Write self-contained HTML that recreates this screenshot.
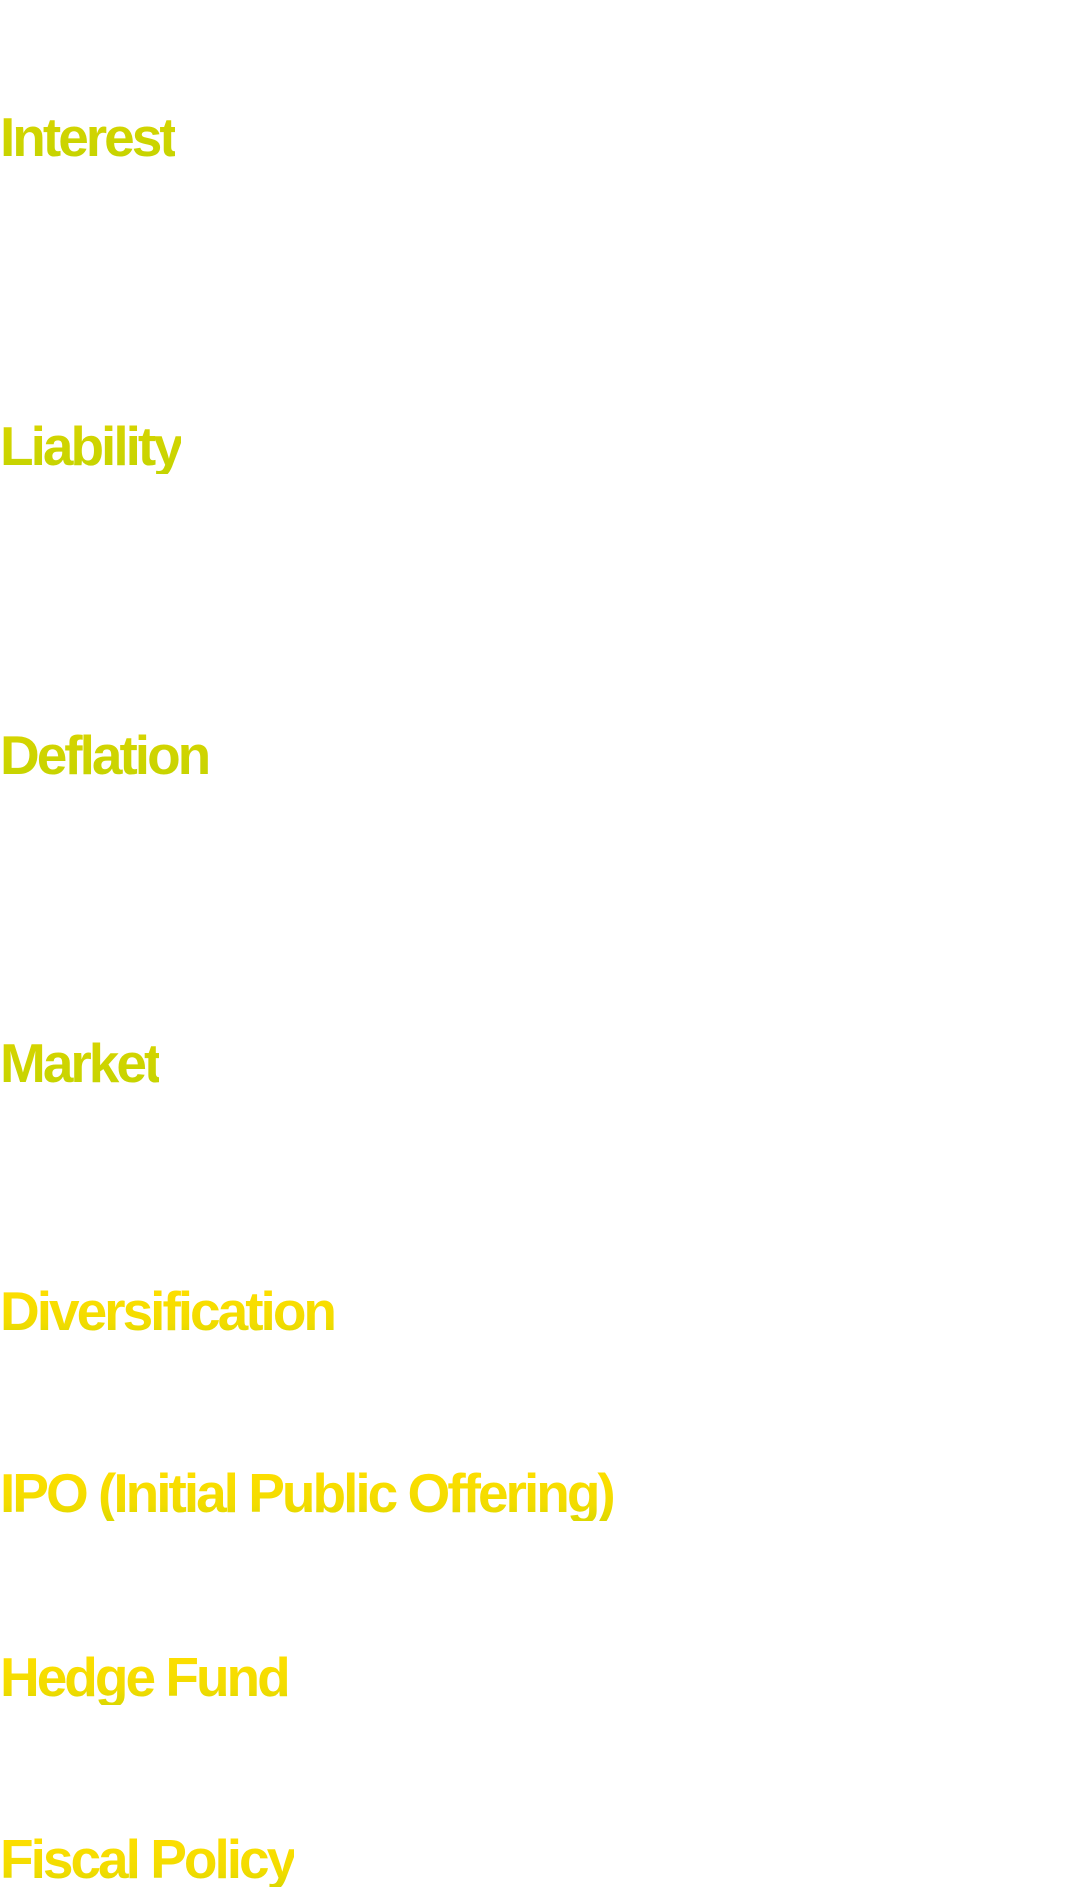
<!DOCTYPE html>
<html><head><meta charset="utf-8">
<style>
html,body{margin:0;padding:0;background:#fff;width:1078px;height:1897px;overflow:hidden;position:relative;font-family:"Liberation Sans",sans-serif;}
.t{position:absolute;left:0;margin:0;font-weight:700;font-size:55px;line-height:55px;letter-spacing:-3px;white-space:nowrap;-webkit-background-clip:text;background-clip:text;color:transparent;}
.g1{background-image:linear-gradient(180deg,#d8d400 0%,#c4d400 100%);}
.g2{background-image:linear-gradient(180deg,#ffdf00 0%,#f2dc00 70%,#dcd800 100%);}
</style></head><body>
<h2 class="t g1" style="top:110px">Interest</h2>
<h2 class="t g1" style="top:419px">Liability</h2>
<h2 class="t g1" style="top:728px">Deflation</h2>
<h2 class="t g1" style="top:1036px">Market</h2>
<h2 class="t g2" style="top:1284px">Diversification</h2>
<h2 class="t g2" style="top:1466px">IPO (Initial Public Offering)</h2>
<h2 class="t g2" style="top:1650px">Hedge Fund</h2>
<h2 class="t g2" style="top:1832px">Fiscal Policy</h2>
</body></html>
